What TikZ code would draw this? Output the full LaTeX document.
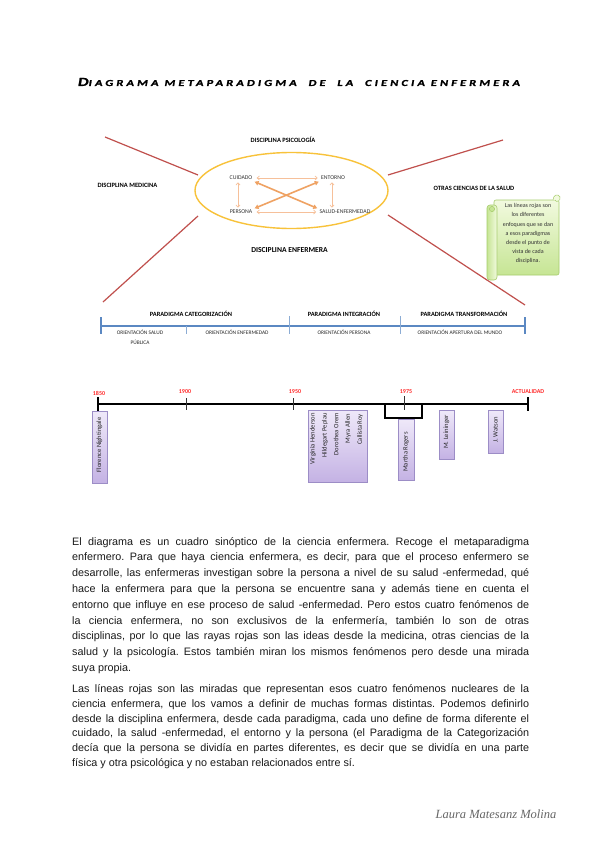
\documentclass[tikz,border=0pt]{standalone}
\usepackage{fontspec}
\usepackage{graphicx}
\setmainfont{Liberation Sans}
\newfontfamily\carl{Carlito}
\newfontfamily\carlfb{Carlito}[FakeBold=1.2,LetterSpace=25]
\newfontfamily\sigfont{Liberation Serif}
\usetikzlibrary{arrows.meta,calc}
\definecolor{redline}{HTML}{C0504D}
\definecolor{ellcol}{HTML}{F8C23A}
\definecolor{arrlight}{HTML}{F6C09A}
\definecolor{arrdark}{HTML}{EFA263}
\definecolor{bluebar}{HTML}{5B88C2}
\definecolor{tlred}{HTML}{FF2A2A}
\definecolor{boxtop}{HTML}{EFE9F9}
\definecolor{boxbot}{HTML}{C4B2E4}
\definecolor{boxdraw}{HTML}{9C8DC6}
\definecolor{notetop}{HTML}{F2FADF}
\definecolor{notebot}{HTML}{C6E594}
\definecolor{notedraw}{HTML}{A6CC6C}
\definecolor{bodytext}{HTML}{1A1A1A}
\newsavebox\jlbox
\newcommand\jline[1]{\sbox\jlbox{#1}\ifdim\wd\jlbox>457pt\resizebox{457pt}{\height}{\usebox\jlbox}\else\makebox[457pt][s]{#1}\fi}
\newcommand\titletext{\carlfb\bfseries\itshape\fontsize{9.5}{9.5}\selectfont D\fontsize{7}{7}\selectfont IAGRAMA\ METAPARADIGMA\ \ DE\ \ LA\ \ CIENCIA\ ENFERMERA}
\frenchspacing
\begin{document}
\begin{tikzpicture}[x=1pt,y=-1pt,
  lblb/.style={font=\carl\bfseries\fontsize{6.5}{7}\selectfont,inner sep=0pt},
  lblbig/.style={font=\carl\bfseries\fontsize{7.6}{8}\selectfont,inner sep=0pt},
  inner/.style={font=\carl\fontsize{5.8}{6}\selectfont,inner sep=1.2pt,text=black!80},
  parlbl/.style={font=\carl\bfseries\fontsize{6.4}{7}\selectfont,inner sep=0pt},
  orlbl/.style={font=\carl\fontsize{5.4}{6}\selectfont,inner sep=0pt,text=black!85},
  redl/.style={draw=redline,line width=1.2pt},
  thinarr/.style={draw=arrlight,line width=0.7pt,{Straight Barb[length=2.2pt,width=4pt]}-{Straight Barb[length=2.2pt,width=4pt]}},
  thickarr/.style={draw=arrdark,line width=1.6pt,{Triangle[length=4pt,width=4.5pt]}-{Triangle[length=4pt,width=4.5pt]}},
  year/.style={font=\carl\bfseries\fontsize{6}{6}\selectfont,text=tlred,inner sep=0pt},
  tbox/.style={draw=boxdraw,line width=0.6pt,top color=boxtop,bottom color=boxbot},
  ttext/.style={font=\carl\fontsize{6.6}{7}\selectfont,rotate=90,inner sep=0pt,text=black!85},
  dot/.style={fill=black,minimum size=2.6pt,inner sep=0pt},
  body/.style={font=\fontsize{10.8}{15}\selectfont,inner sep=0pt,anchor=base west,text=bodytext},
]
\fill[white] (0,0) rectangle (600,848);
\useasboundingbox (0,0) rectangle (600,848);

% ---------- title ----------
\node[inner sep=0pt,text=black] (title) at (299,82)
  {\resizebox{442pt}{8pt}{\titletext}};

% ---------- top diagram ----------
\draw[ellcol,line width=1.4pt] (291.5,190.5) ellipse [x radius=96.5, y radius=38];
\node[lblb] (psico) at (283,140) {DISCIPLINA PSICOLOGÍA};
\node[lblb] (medi) at (127.5,185) {DISCIPLINA MEDICINA};
\node[lblb] (otras) at (474,188) {OTRAS CIENCIAS DE LA SALUD};
\node[lblbig] (enfer) at (289.5,250) {DISCIPLINA ENFERMERA};

\node[inner] (cuid) at (241,178) {CUIDADO};
\node[inner] (ent) at (333,178) {ENTORNO};
\node[inner] (pers) at (241,212) {PERSONA};
\node[inner] (salud) at (345,212) {SALUD-ENFERMEDAD};

\draw[thinarr,shorten <=3pt,shorten >=2pt] (cuid.east) -- (ent.west);
\draw[thinarr,shorten <=3pt,shorten >=2pt] (pers.east) -- (salud.west);
\draw[thinarr,shorten <=1pt,shorten >=1pt] ([xshift=-3pt]cuid.south) -- ([xshift=-3pt]pers.north);
\draw[thinarr,shorten <=1pt,shorten >=1pt] ([xshift=-1pt]ent.south) -- ([xshift=-1pt]ent.south |- salud.north);
\draw[thickarr,shorten <=1pt,shorten >=1pt] (cuid.south east) -- (salud.north west);
\draw[thickarr,shorten <=1pt,shorten >=1pt] (pers.north east) -- (ent.south west);

\coordinate (rl1a) at (105,137); \coordinate (rl1b) at (198,175);
\coordinate (rl2a) at (198,216); \coordinate (rl2b) at (103,302);
\coordinate (rl3a) at (388,175); \coordinate (rl3b) at (503,140);
\coordinate (rl4a) at (388,215); \coordinate (rl4b) at (525,305);
\draw[redl] (rl1a) -- (rl1b);
\draw[redl] (rl2a) -- (rl2b);
\draw[redl] (rl3a) -- (rl3b);
\draw[redl] (rl4a) -- (rl4b);

% note scroll
\draw[notedraw,line width=0.6pt,top color=notetop,bottom color=notebot,rounded corners=2pt] (494,200) rectangle (559,275);
\draw[notedraw,line width=0.6pt,left color=notebot,right color=notetop,rounded corners=3pt] (487,205) rectangle (497,280);
\draw[notedraw,line width=0.5pt,fill=notebot] (492,209) circle (2.6);
\draw[notedraw,line width=0.5pt,fill=notetop] (553,200) .. controls (553,195) and (558,193) .. (560,197) .. controls (561,201) and (556,203) .. (555,200);
\node[font=\carl\fontsize{6}{9.1}\selectfont,align=center,inner sep=0pt,text=black!80] (note) at (528,233.5)
 {Las líneas rojas son\\los diferentes\\enfoques que se dan\\a esos paradigmas\\desde el punto de\\vista de cada\\disciplina.};

% ---------- paradigm bar ----------
\coordinate (pbl) at (101,326); \coordinate (pbr) at (525,326);
\draw[bluebar,line width=1.1pt] (pbl) -- (pbr);
\draw[bluebar,line width=1.1pt] (101,317) -- (101,334);
\draw[bluebar,line width=1.1pt] (525,317) -- (525,334);
\draw[bluebar!70,line width=0.7pt] (186,326) -- (186,334);
\draw[bluebar!70,line width=0.7pt] (289,316) -- (289,334);
\draw[bluebar!70,line width=0.7pt] (400,316) -- (400,334);
\node[parlbl] (pcat) at (191,314) {PARADIGMA CATEGORIZACIÓN};
\node[parlbl] (pint) at (344,314) {PARADIGMA INTEGRACIÓN};
\node[parlbl] (ptra) at (464,314) {PARADIGMA TRANSFORMACIÓN};
\node[orlbl] (osal) at (140,332) {ORIENTACIÓN SALUD};
\node[orlbl] (opub) at (140,342) {PÚBLICA};
\node[orlbl] (oenf) at (237,332) {ORIENTACIÓN ENFERMEDAD};
\node[orlbl] (oper) at (344,332) {ORIENTACIÓN PERSONA};
\node[orlbl] (oape) at (460,332) {ORIENTACIÓN APERTURA DEL MUNDO};

% ---------- timeline ----------
\coordinate (tl0) at (98,404); \coordinate (tl1) at (528,404);
\draw[black,line width=1.3pt] (tl0) -- (tl1);
\draw[black,line width=1.5pt] (98,397) -- (98,416);
\draw[black,line width=1.2pt] (528,397) -- (528,411);
\draw[black!80,line width=0.6pt] (186,398) -- (186,410);
\draw[black!80,line width=0.6pt] (293,398) -- (293,410);
\draw[black!80,line width=0.6pt] (404,396) -- (404,410);
\node[year] (y1850) at (99,393) {1850};
\node[year] (y1900) at (185,392) {1900};
\node[year] (y1950) at (295,392) {1950};
\node[year] (y1975) at (406,392) {1975};
\node[year] (yact) at (528,392) {ACTUALIDAD};
\foreach \xx/\nm in {313/d1,325/d2,336/d3,348/d4,359/d5,382/d6,423/d7,444/d8,495/d9}
  \node[dot] (\nm) at (\xx,404) {};
\draw[black,line width=1.3pt] (385,404) -- (385,418) -- (422,418) -- (422,404);

\draw[tbox] (92,411) rectangle (107,483);
\node[ttext] (flo) at (99.5,445) {Florence Nightingale};
\draw[tbox] (308,410) rectangle (367,482);
\node[ttext,anchor=east] (vh) at (313,413) {Virginia Henderson};
\node[ttext,anchor=east] (hp) at (325,413) {Hildegart Peplau};
\node[ttext,anchor=east] (do) at (336,413) {Dorothea Orem};
\node[ttext,anchor=east] (ma) at (348,414) {Myra Allen};
\node[ttext,anchor=east] (cr) at (360,414) {Callista Roy};
\draw[tbox] (398,419) rectangle (414,480);
\node[ttext] (mr) at (406,452) {Martha Rogers};
\draw[tbox] (439,410) rectangle (454,459);
\node[ttext] (ml) at (446.5,432) {M. Leininger};
\draw[tbox] (488,410) rectangle (503,453);
\node[ttext] (jw) at (495.5,429.5) {J. Watson};

% ---------- body text ----------
\node[body] (p1a) at (72,545) {\jline{El diagrama es un cuadro sinóptico de la ciencia enfermera. Recoge el metaparadigma}};
\node[body] (p1b) at (72,560.8) {\jline{enfermero. Para que haya ciencia enfermera, es decir, para que el proceso enfermero se}};
\node[body] (p1c) at (72,576.6) {\jline{desarrolle, las enfermeras investigan sobre la persona a nivel de su salud -enfermedad, qué}};
\node[body] (p1d) at (72,592.4) {\jline{hace la enfermera para que la persona se encuentre sana y además tiene en cuenta el}};
\node[body] (p1e) at (72,608.2) {\jline{entorno que influye en ese proceso de salud -enfermedad. Pero estos cuatro fenómenos de}};
\node[body] (p1f) at (72,624) {\jline{la ciencia enfermera, no son exclusivos de la enfermería, también lo son de otras}};
\node[body] (p1g) at (72,639.8) {\jline{disciplinas, por lo que las rayas rojas son las ideas desde la medicina, otras ciencias de la}};
\node[body] (p1h) at (72,655.6) {\jline{salud y la psicología. Estos también miran los mismos fenómenos pero desde una mirada}};
\node[body] (p1i) at (72,671.4) {suya propia.};

\node[body] (p2a) at (72,692.5) {\jline{Las líneas rojas son las miradas que representan esos cuatro fenómenos nucleares de la}};
\node[body] (p2b) at (72,707.3) {\jline{ciencia enfermera, que los vamos a definir de muchas formas distintas. Podemos definirlo}};
\node[body] (p2c) at (72,722.1) {\jline{desde la disciplina enfermera, desde cada paradigma, cada uno define de forma diferente el}};
\node[body] (p2d) at (72,736.9) {\jline{cuidado, la salud -enfermedad, el entorno y la persona (el Paradigma de la Categorización}};
\node[body] (p2e) at (72,751.7) {\jline{decía que la persona se dividía en partes diferentes, es decir que se dividía en una parte}};
\node[body] (p2f) at (72,766.5) {física y otra psicológica y no estaban relacionados entre sí.};

% ---------- signature ----------
\node[font=\sigfont\itshape\fontsize{12.5}{13}\selectfont,text=black!60,inner sep=0pt] (sig) at (496,814) {Laura Matesanz Molina};
\end{tikzpicture}
\end{document}
